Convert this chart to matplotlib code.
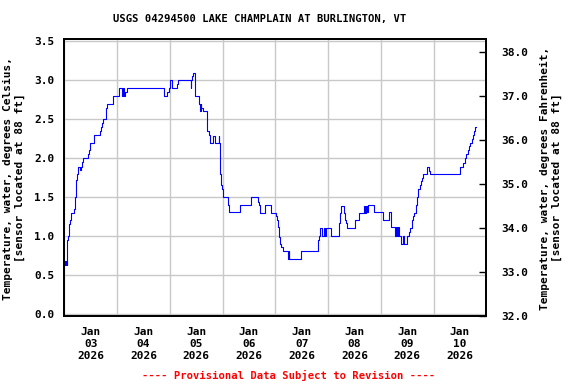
import numpy as np
import pandas as pd
import matplotlib
matplotlib.use("Agg")
import matplotlib.pyplot as plt
import matplotlib.dates as mdates

# ---- data: step breakpoints (hours since 2026-01-03 00:00, water temperature degC)
hours = [0.00, 0.32, 0.59, 0.91, 1.18, 1.37, 1.82, 2.28, 2.73, 3.19,
         4.55, 5.01, 5.46, 5.92, 6.38, 7.29, 7.74, 8.20, 8.65, 10.93,
         11.25, 11.84, 13.66, 16.39, 16.85, 17.31, 17.76, 18.85, 19.13, 19.58,
         22.18, 24.91, 26.41, 26.87, 27.32, 27.78, 28.42, 45.27, 46.91, 47.54,
         48.14, 49.18, 51.46, 51.78, 57.56, 57.84, 58.16, 58.61, 59.39, 59.66,
         61.21, 61.94, 62.25, 62.39, 63.30, 64.99, 65.76, 66.35, 67.86, 68.77,
         70.32, 70.59, 70.91, 71.50, 71.95, 72.41, 74.41, 75.14, 80.15, 85.16,
         88.08, 88.53, 89.26, 91.54, 94.00, 96.27, 96.87, 97.32, 97.64, 98.10,
         98.55, 99.28, 101.74, 102.01, 102.33, 107.48, 115.22, 115.67, 116.13, 117.22,
         118.27, 118.72, 119.18, 121.14, 124.78, 125.24, 125.69, 127.24, 127.70, 128.15,
         128.74, 132.39, 134.21, 136.17, 136.62, 137.08, 137.53, 138.17, 140.72, 144.82,
         147.55, 148.46, 150.60, 151.06, 151.51, 151.97, 152.29, 153.34, 153.93, 154.38,
         156.07, 156.66, 157.43, 158.03, 158.66, 159.26, 160.03, 160.49, 161.08, 161.67,
         162.13, 162.76, 163.22, 165.18, 166.09, 166.41, 180.21, 181.57, 182.16, 182.80,
         183.53, 184.17, 184.76, 185.35, 185.99, 186.45, 186.90, 187.36]
temp_c = [0.62, 0.68, 0.62, 0.68, 0.62, 0.95, 1.00, 1.15, 1.20, 1.30,
          1.35, 1.50, 1.72, 1.79, 1.89, 1.85, 1.89, 1.95, 2.00, 2.05,
          2.10, 2.19, 2.30, 2.35, 2.40, 2.45, 2.50, 2.55, 2.65, 2.69,
          2.80, 2.90, 2.80, 2.90, 2.80, 2.85, 2.90, 2.80, 2.85, 2.90,
          3.00, 2.90, 2.95, 3.00, 2.90, 3.00, 3.05, 3.09, 2.94, 2.80,
          2.70, 2.60, 2.70, 2.64, 2.60, 2.35, 2.30, 2.20, 2.28, 2.20,
          2.28, 2.20, 1.80, 1.65, 1.60, 1.50, 1.40, 1.31, 1.40, 1.50,
          1.44, 1.40, 1.30, 1.40, 1.30, 1.25, 1.20, 1.12, 0.99, 0.90,
          0.86, 0.81, 0.70, 0.81, 0.70, 0.81, 0.95, 1.00, 1.10, 1.00,
          1.10, 1.00, 1.10, 1.00, 1.16, 1.30, 1.39, 1.30, 1.20, 1.16,
          1.10, 1.20, 1.30, 1.39, 1.30, 1.39, 1.31, 1.40, 1.31, 1.20,
          1.31, 1.11, 1.00, 1.11, 1.00, 1.11, 1.00, 0.90, 1.00, 0.90,
          1.00, 1.05, 1.10, 1.20, 1.25, 1.30, 1.40, 1.50, 1.60, 1.65,
          1.70, 1.75, 1.80, 1.88, 1.84, 1.80, 1.89, 1.94, 2.00, 2.05,
          2.10, 2.15, 2.20, 2.25, 2.30, 2.35, 2.40, 2.40]

title = "USGS 04294500 LAKE CHAMPLAIN AT BURLINGTON, VT"
ylabel_left = "Temperature, water, degrees Celsius,\n[sensor located at 88 ft]"
ylabel_right = "Temperature, water, degrees Fahrenheit,\n[sensor located at 88 ft]"
footer = "---- Provisional Data Subject to Revision ----"
left_ticks = [0.0, 0.5, 1.0, 1.5, 2.0, 2.5, 3.0, 3.5]
right_ticks = [32.0, 33.0, 34.0, 35.0, 36.0, 37.0, 38.0]

start = pd.Timestamp("2026-01-03 00:00")
end = pd.Timestamp("2026-01-11 00:00")
times = [start + pd.Timedelta(hours=h) for h in hours]

FONT = "DejaVu Sans Mono"
plt.rcParams["font.family"] = [FONT]
plt.rcParams["font.weight"] = "bold"
FS = 8

fig = plt.figure(figsize=(5.76, 3.84), dpi=100)
ax = fig.add_axes([0.1116, 0.1779, 0.8443 - 0.1116, 0.8977 - 0.1779])

ax.step(times, temp_c, where="post", color="#0000ff", linewidth=0.8, zorder=3)

ax.set_xlim(start, end)
ax.set_ylim(-0.026, 3.527)
ax.set_yticks(left_ticks)
ax.set_yticklabels([f"{v:.1f}" for v in left_ticks], fontsize=FS, fontweight="bold")

ax.xaxis.set_major_locator(mdates.DayLocator())
ax.xaxis.set_major_formatter(matplotlib.ticker.NullFormatter())
ax.xaxis.set_minor_locator(mdates.HourLocator(byhour=[12]))
ax.xaxis.set_minor_formatter(mdates.DateFormatter("%b\n%d\n%Y"))
ax.tick_params(axis="x", which="both", length=0, pad=8)
for lbl in ax.xaxis.get_minorticklabels():
    lbl.set_fontsize(FS)
    lbl.set_fontweight("bold")
    lbl.set_linespacing(1.25)
ax.tick_params(axis="y", length=0, pad=7)

ax.grid(True, which="major", color="#c8c8c8", linewidth=1.0, zorder=0)
for s in ax.spines.values():
    s.set_linewidth(1.3)

ax2 = ax.twinx()
ax2.set_ylim(32.0, 38.28)
ax2.set_yticks(right_ticks)
ax2.set_yticklabels([f"{v:.1f}" for v in right_ticks], fontsize=FS, fontweight="bold")
ax2.tick_params(axis="y", direction="in", length=5, width=1.0, pad=11)
for s in ax2.spines.values():
    s.set_linewidth(1.3)

fig.text(260 / 576, 1 - 19 / 384, title, ha="center", va="center",
         fontsize=7.6, fontweight="bold")
fig.text(14 / 576, 1 - 178 / 384, ylabel_left, ha="center", va="center",
         rotation=90, fontsize=FS, fontweight="bold", linespacing=1.2)
fig.text(551 / 576, 1 - 178 / 384, ylabel_right, ha="center", va="center",
         rotation=90, fontsize=FS, fontweight="bold", linespacing=1.2)
fig.text(289 / 576, 1 - 375 / 384, footer, ha="center", va="center",
         fontsize=7.6, fontweight="bold", color="#ff0000")

fig.savefig("out.png", dpi=100)
